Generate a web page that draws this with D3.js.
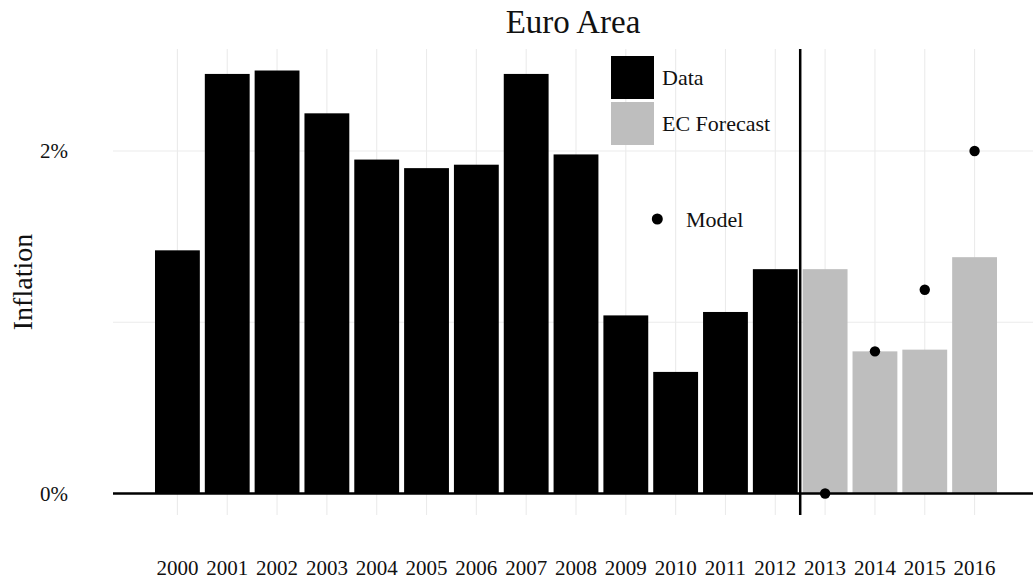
<!DOCTYPE html>
<html>
<head>
<meta charset="utf-8">
<script src="https://cdn.jsdelivr.net/npm/d3@7"></script>
<style>
  html, body { margin: 0; padding: 0; background: #fff; }
  svg { display: block; }
  text { font-family: "Liberation Serif", "DejaVu Serif", serif; fill: #111; }
</style>
</head>
<body>
<svg id="chart" width="1033" height="581"></svg>
<script>
// ---- data ----
const years = ["2000","2001","2002","2003","2004","2005","2006","2007","2008","2009","2010","2011","2012","2013","2014","2015","2016"];
const dataYears = ["2000","2001","2002","2003","2004","2005","2006","2007","2008","2009","2010","2011","2012"];
const dataValues = [1.42, 2.45, 2.47, 2.22, 1.95, 1.90, 1.92, 2.45, 1.98, 1.04, 0.71, 1.06, 1.31];
const forecastYears = ["2013","2014","2015","2016"];
const forecastValues = [1.31, 0.83, 0.84, 1.38];
const modelYears = ["2013","2014","2015","2016"];
const modelValues = [0.0, 0.83, 1.19, 2.0];
const yMajorTicks = [0, 2];
const yMinorTicks = [1];
const legendLabels = ["Data", "EC Forecast", "Model"];
const titleText = "Euro Area";
const yTitle = "Inflation";

// ---- layout ----
const svg = d3.select("#chart");
const panel = { left: 113, right: 1033, top: 49, bottom: 515 };

const x = d3.scaleBand()
  .domain(years)
  .range([152.5, 999.5])
  .paddingInner(0.1)
  .paddingOuter(0.05);

const y = d3.scaleLinear()
  .domain([-0.1255, 2.5956])
  .range([panel.bottom, panel.top]);

// grid: vertical lines at band centres
svg.append("g")
  .selectAll("line.vg")
  .data(years)
  .join("line")
  .attr("x1", d => x(d) + x.bandwidth() / 2)
  .attr("x2", d => x(d) + x.bandwidth() / 2)
  .attr("y1", panel.top)
  .attr("y2", panel.bottom)
  .attr("stroke", "#ebebeb")
  .attr("stroke-width", 1.1);

// grid: horizontal lines
svg.append("g")
  .selectAll("line.hg")
  .data(yMajorTicks.concat(yMinorTicks))
  .join("line")
  .attr("x1", panel.left)
  .attr("x2", panel.right)
  .attr("y1", d => y(d))
  .attr("y2", d => y(d))
  .attr("stroke", "#ebebeb")
  .attr("stroke-width", 1.1);

// bars: data
svg.append("g")
  .selectAll("rect")
  .data(dataYears.map((d, i) => ({ year: d, value: dataValues[i] })))
  .join("rect")
  .attr("x", d => x(d.year))
  .attr("width", x.bandwidth())
  .attr("y", d => y(d.value))
  .attr("height", d => y(0) - y(d.value))
  .attr("fill", "#000");

// bars: forecast
svg.append("g")
  .selectAll("rect")
  .data(forecastYears.map((d, i) => ({ year: d, value: forecastValues[i] })))
  .join("rect")
  .attr("x", d => x(d.year))
  .attr("width", x.bandwidth())
  .attr("y", d => y(d.value))
  .attr("height", d => y(0) - y(d.value))
  .attr("fill", "#bebebe");

// zero line
svg.append("line")
  .attr("x1", panel.left)
  .attr("x2", panel.right)
  .attr("y1", y(0))
  .attr("y2", y(0))
  .attr("stroke", "#000")
  .attr("stroke-width", 2.5);

// vertical separator between last data year and first forecast year
const sepX = (x("2012") + x.bandwidth() + x("2013")) / 2;
svg.append("line")
  .attr("x1", sepX)
  .attr("x2", sepX)
  .attr("y1", panel.top)
  .attr("y2", panel.bottom)
  .attr("stroke", "#000")
  .attr("stroke-width", 2.5);

// model points
svg.append("g")
  .selectAll("circle")
  .data(modelYears.map((d, i) => ({ year: d, value: modelValues[i] })))
  .join("circle")
  .attr("cx", d => x(d.year) + x.bandwidth() / 2)
  .attr("cy", d => y(d.value))
  .attr("r", 5.2)
  .attr("fill", "#000");

// y axis labels
const yAxis = d3.axisLeft(y)
  .tickValues(yMajorTicks)
  .tickFormat(d => d + "%")
  .tickSize(0)
  .tickPadding(45);
const gy = svg.append("g").attr("transform", `translate(${panel.left},0)`).call(yAxis);
gy.select(".domain").remove();
gy.selectAll("text")
  .attr("font-family", "Liberation Serif, serif")
  .attr("font-size", 21)
  .attr("fill", "#111");

// x axis labels
const xAxis = d3.axisBottom(x).tickSize(0).tickPadding(45);
const gx = svg.append("g").attr("transform", `translate(0,${panel.bottom})`).call(xAxis);
gx.select(".domain").remove();
gx.selectAll("text")
  .attr("font-family", "Liberation Serif, serif")
  .attr("font-size", 21)
  .attr("fill", "#111");

// title
svg.append("text")
  .attr("x", (panel.left + panel.right) / 2)
  .attr("y", 33)
  .attr("text-anchor", "middle")
  .attr("font-size", 33)
  .text(titleText);

// y title
svg.append("text")
  .attr("transform", `translate(32,${(panel.top + panel.bottom) / 2}) rotate(-90)`)
  .attr("text-anchor", "middle")
  .attr("font-size", 28)
  .text(yTitle);

// legend
const lg = svg.append("g");
lg.append("rect").attr("x", 611).attr("y", 56).attr("width", 43).attr("height", 43).attr("fill", "#000");
lg.append("rect").attr("x", 611).attr("y", 102).attr("width", 43).attr("height", 43).attr("fill", "#bebebe");
lg.append("circle").attr("cx", 657.3).attr("cy", 219).attr("r", 5.5).attr("fill", "#000");
lg.append("text").attr("x", 662).attr("y", 85).attr("font-size", 22).text(legendLabels[0]);
lg.append("text").attr("x", 662).attr("y", 131).attr("font-size", 22).text(legendLabels[1]);
lg.append("text").attr("x", 686).attr("y", 227).attr("font-size", 22).text(legendLabels[2]);
</script>
</body>
</html>
